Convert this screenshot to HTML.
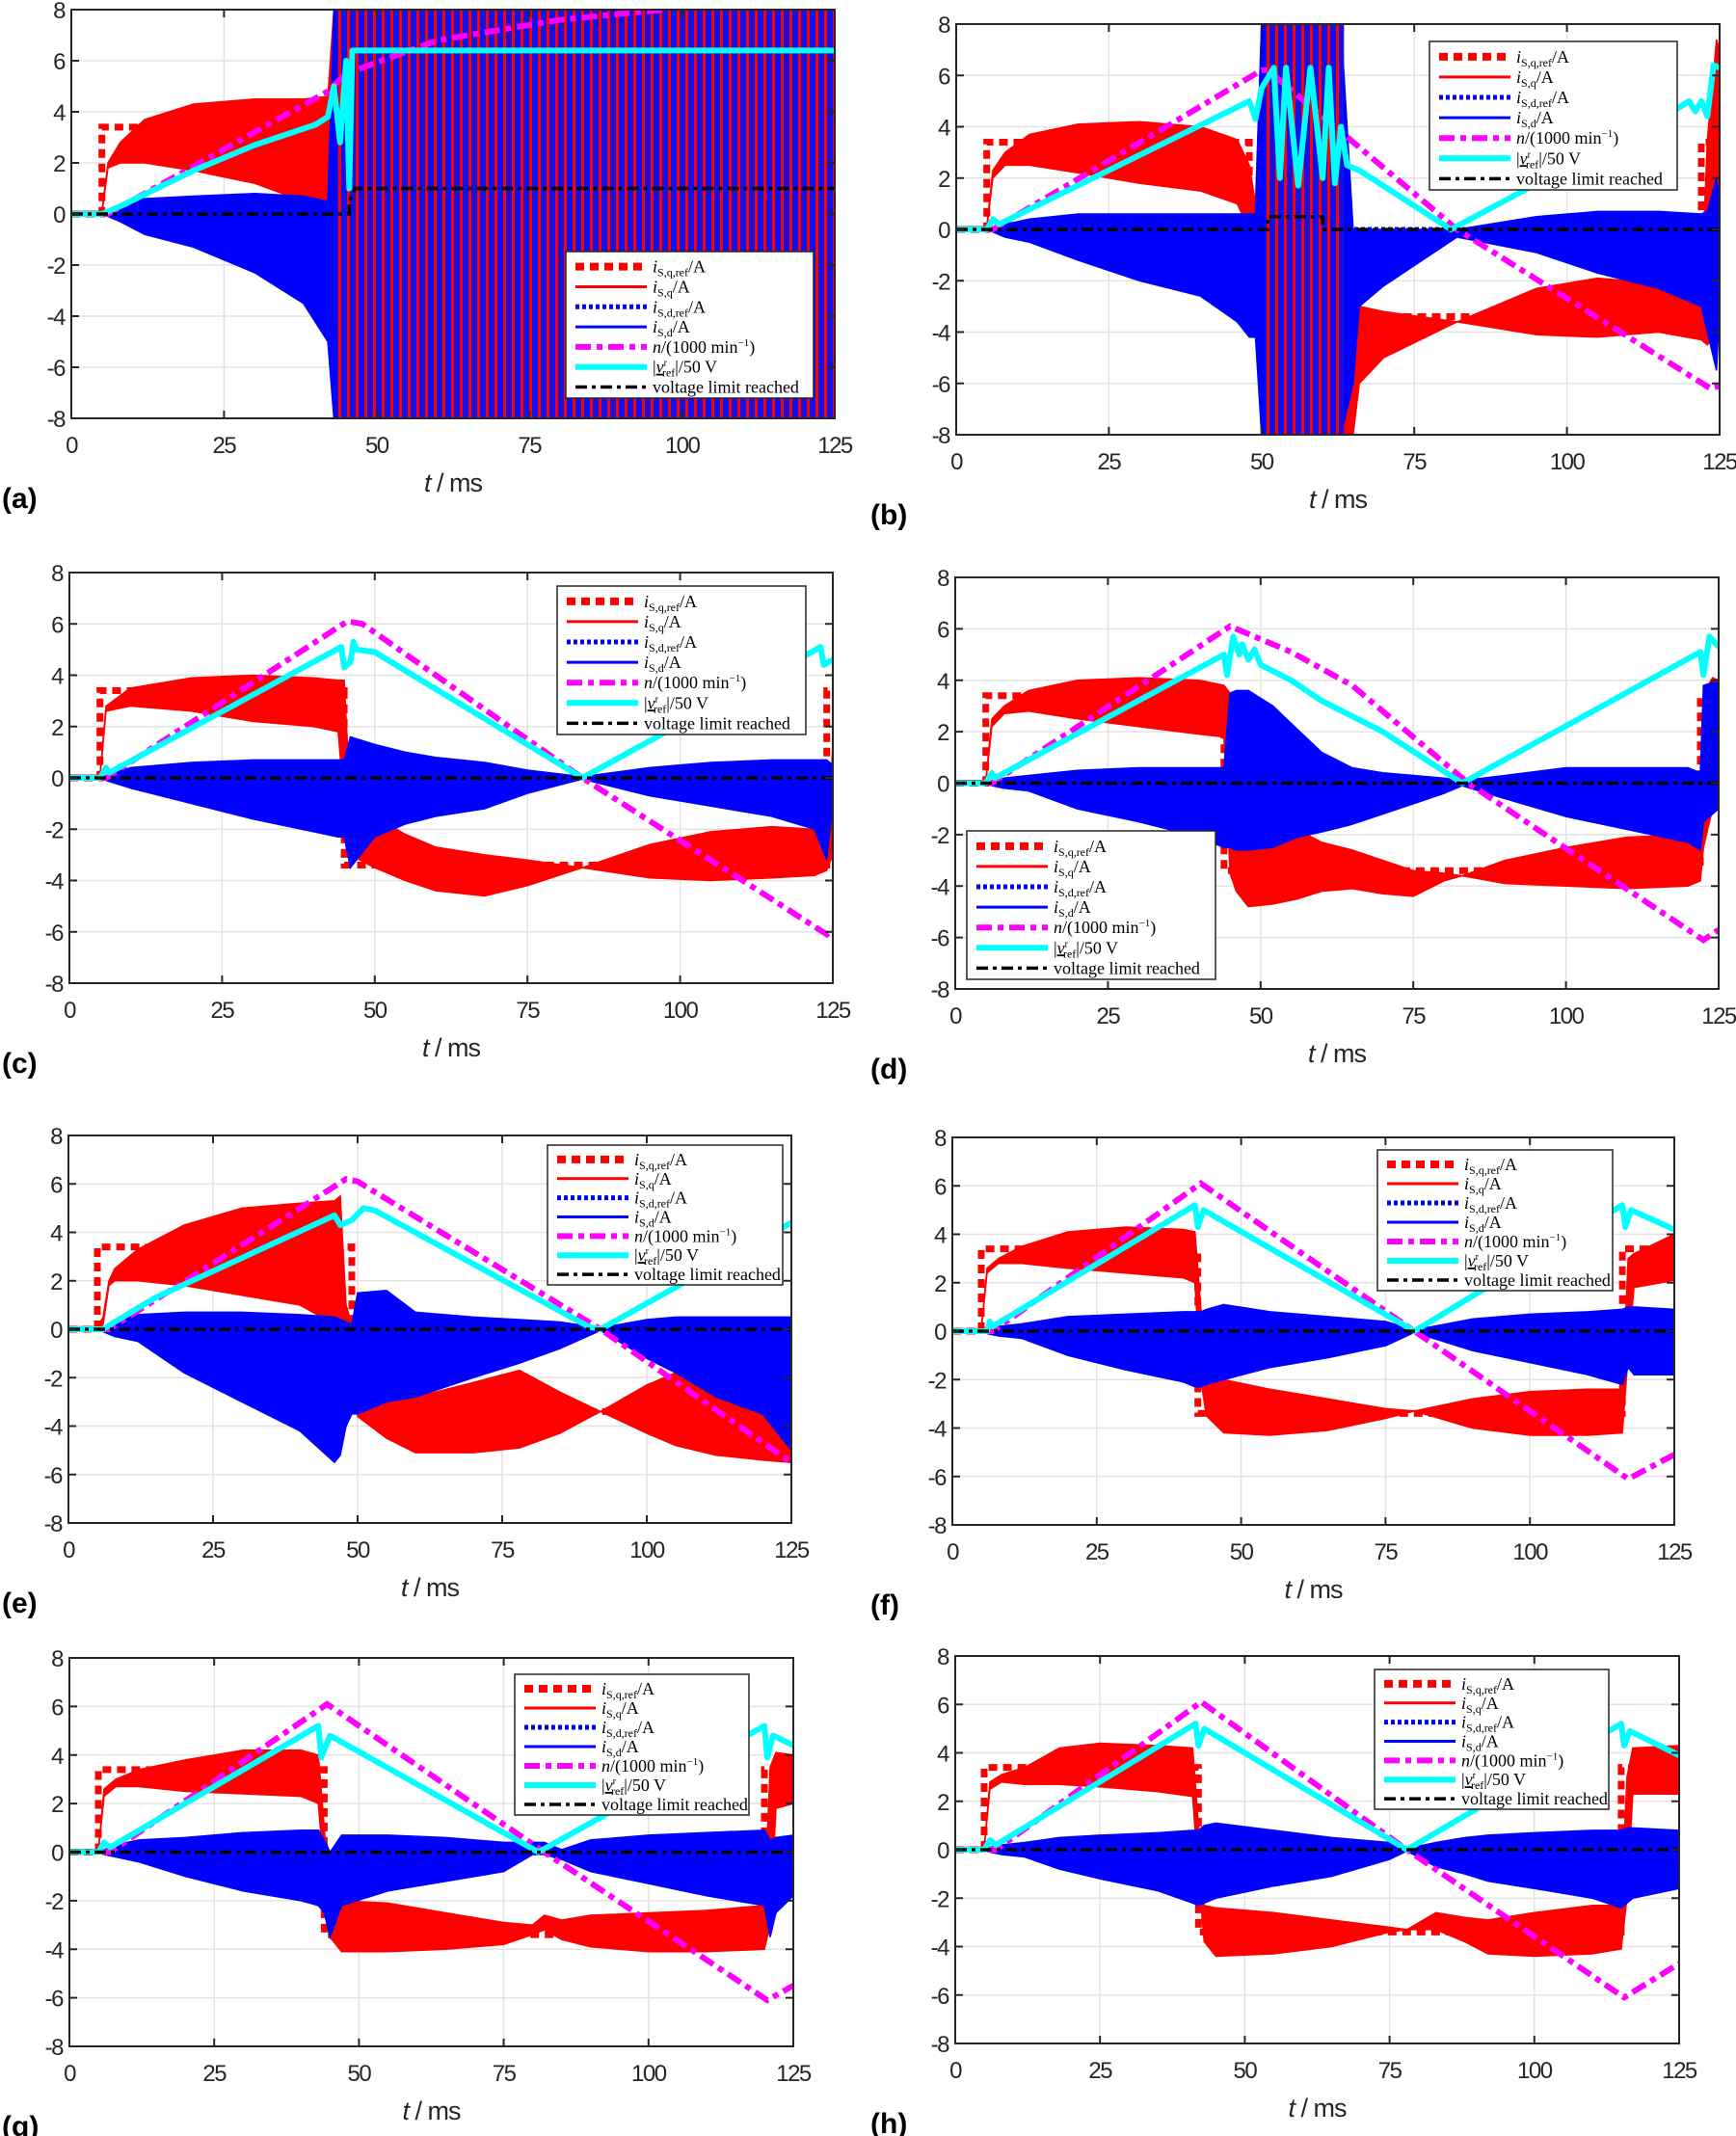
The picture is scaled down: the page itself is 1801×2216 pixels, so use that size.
<!DOCTYPE html>
<html><head><meta charset="utf-8">
<style>
html,body{margin:0;padding:0;background:#fff;}
svg{display:block;}
.tk{font-family:"Liberation Sans Narrow","Liberation Sans",sans-serif;font-size:24px;letter-spacing:-1.5px;fill:#262626;}
.lg{font-family:"Liberation Serif",serif;font-size:18px;fill:#000;}
.pl{font-family:"Liberation Sans",sans-serif;font-size:30px;font-weight:bold;fill:#000;}
.xl{font-family:"Liberation Sans",sans-serif;font-size:27px;letter-spacing:-1px;fill:#262626;}
</style></head>
<body>
<svg id="fig" width="1801" height="2216" viewBox="0 0 1801 2216" xmlns="http://www.w3.org/2000/svg">
<defs>
<pattern id="burst" width="9" height="10" patternUnits="userSpaceOnUse">
<rect x="0" y="0" width="9" height="10" fill="#1010e8"/><rect x="0" y="0" width="3" height="10" fill="#ff0000"/>
</pattern>
</defs>
</svg>
<script>
// ---- shared axis ticks ----
const xTicks = [0,25,50,75,100,125];
const yTicks = [-8,-6,-4,-2,0,2,4,6,8];
const labels = ['a','b','c','d','e','f','g','h'];

// ---- panel (a) ----
const eT_a   = [0,5,6,8,12,20,30,38,42,43,125];
const qHi_a  = [0.1,0.1,2.0,2.8,3.7,4.3,4.5,4.5,4.6,8,8];
const qLo_a  = [0,0,1.8,2.0,2.0,1.7,1.2,0.5,0.3,-8,-8];
const dHi_a  = [0,0,0,0.3,0.6,0.7,0.8,0.7,0.5,8,8];
const dLo_a  = [0,0,-0.1,-0.3,-0.8,-1.3,-2.3,-3.5,-5,-8,-8];
const nT_a   = [0,6,42,45,60,80,97];
const nV_a   = [0,0,4.8,5.5,6.8,7.6,8];
const vT_a   = [0,5,8,20,30,40,42,43,44,45,45.5,46,125];
const vV_a   = [0,0,0.3,1.7,2.7,3.5,3.8,5,2.8,6,1,6.4,6.4];
const rT_a   = [0,5,5,125];
const rV_a   = [0,0,3.4,3.4];
const lT_a   = [0,45.5,45.5,46.5,125];
const lV_a   = [0,0,0.5,1,1];
const burst_a = [43.5,125];

// ---- panel (b) ----
const eT_b   = [0,5,6,8,12,20,30,40,46,48,49,50,63,65,66,70,82,95,105,115,122,123,124.5,125];
const qHi_b  = [0.1,0.1,2.3,3.0,3.7,4.1,4.2,4.0,3.5,2.5,1,8,8,-2,-3,-3.2,-3.6,-2.3,-1.9,-2.1,-2.5,3.5,7.4,7];
const qLo_b  = [0,0,2.0,2.5,2.5,2.2,1.8,1.5,1.0,0,-3.5,-8,-8,-8,-6,-5.0,-3.6,-4.1,-4.2,-4.0,-4.3,-4.5,-4,-3];
const dHi_b  = [0,0,0,0.2,0.4,0.6,0.6,0.6,0.6,0.6,0.6,8,8,0,0,0,0,0.5,0.7,0.7,0.6,0.7,2,1];
const dLo_b  = [0,0,-0.1,-0.3,-0.5,-1.2,-2.0,-2.6,-3.6,-4.2,-4.2,-8,-8,-6,-3,-2.2,-0.3,-0.9,-1.7,-2.3,-3.0,-4,-5.5,-3];
const nT_b   = [0,6,50,51,82,123.5,125];
const nV_b   = [0,0,6.2,6.2,0,-6.2,-6.1];
const vT_b   = [0,5,6,7,48,49,50,52,53,54,56,58,60,61,62,63,64,66,68,81,118,120,121,122,123,124,125];
const vV_b   = [0,0,0.4,0.2,5.0,4.3,5.5,6.3,2,6.3,1.7,6.3,2,6.3,1.8,4,2.5,2.3,2.0,0,4.7,5.0,4.6,5.0,4.4,6.4,6.3];
const rT_b   = [0,5,5,48,48,122,122,125];
const rV_b   = [0,0,3.4,3.4,-3.4,-3.4,3.4,3.4];
const lT_b   = [0,51,51,60,60,125];
const lV_b   = [0,0,0.5,0.5,0,0];
const burst_b = [50.5,63.5];

// ---- panel (c) ----
const eT_c   = [0,5,6,10,20,30,40,44,45,46,50,55,60,68,75,84,95,105,115,122,124,125];
const qHi_c  = [0.1,0.1,2.8,3.5,3.9,4.0,3.9,3.8,3.8,-1,-1.5,-2.2,-2.7,-3.0,-3.2,-3.5,-2.6,-2.1,-1.9,-2.0,-3,1.3];
const qLo_c  = [0,0,2.6,2.8,2.6,2.2,2.0,1.8,-1,-3,-3.5,-4.0,-4.4,-4.6,-4.2,-3.5,-3.9,-4.0,-3.9,-3.8,-3.6,-3];
const dHi_c  = [0,0,0.1,0.4,0.6,0.7,0.7,0.7,0.7,1.6,1.3,1.0,0.8,0.6,0.3,0.05,0.4,0.6,0.7,0.7,0.7,0.5];
const dLo_c  = [0,0,-0.1,-0.4,-1.0,-1.6,-2.1,-2.3,-2.3,-3.5,-2.3,-1.8,-1.5,-1.2,-0.6,-0.05,-0.7,-1.1,-1.5,-2.0,-3.2,-1];
const nT_c   = [0,6,45.5,48,84,124,125];
const nV_c   = [0,0,6.1,6.0,0,-6.1,-5.9];
const vT_c   = [0,5,6,6.5,44.5,45,46,46.5,47,50,84,123,123.5,125];
const vV_c   = [0,0,0.4,0.2,5.1,4.3,4.5,5.3,5.0,4.9,0,5.1,4.4,4.6];
const rT_c   = [0,5,5,45,45,124,124,125];
const rV_c   = [0,0,3.4,3.4,-3.4,-3.4,3.4,3.4];
const lT_c   = [0,125];
const lV_c   = [0,0];

// ---- panel (d) ----
const eT_d   = [0,5,6,8,12,20,30,40,44,45,46,48,52,56,60,65,70,75,80,83,90,100,110,120,122,122.5,124,125];
const qHi_d  = [0.1,0.1,2.5,3.0,3.6,4.0,4.1,4.0,3.8,3.5,-1.5,-1.5,-1.6,-1.8,-2.3,-2.6,-3.0,-3.4,-3.5,-3.6,-3.0,-2.5,-2.1,-2.0,-2.3,3.5,4.1,4];
const qLo_d  = [0,0,2.2,2.7,2.8,2.5,2.2,1.9,1.8,-3.5,-4.2,-4.8,-4.7,-4.5,-4.2,-4.1,-4.3,-4.4,-3.8,-3.6,-3.9,-4.0,-4.1,-4.0,-3.8,-2.5,-1,0];
const dHi_d  = [0,0,0,0.2,0.3,0.5,0.6,0.6,0.6,3.5,3.6,3.6,3.0,2.1,1.2,0.6,0.4,0.3,0.2,0.1,0.3,0.6,0.6,0.6,0.4,3.8,3.9,3.9];
const dLo_d  = [0,0,-0.1,-0.2,-0.3,-1.0,-1.5,-2.1,-2.5,-2.5,-2.6,-2.6,-2.5,-2.1,-1.9,-1.6,-1.2,-0.8,-0.4,-0.1,-0.6,-1.3,-1.8,-2.3,-2.6,-1.5,-1.2,-1];
const nT_d   = [0,6,45,55,65,84,122.5,125];
const nV_d   = [0,0,6.1,5.1,3.8,0,-6.1,-5.7];
const vT_d   = [0,5,6,6.5,44,44.5,45.5,46.5,47,48,49,50,55,60,70,83,122,122.5,123.5,125];
const vV_d   = [0,0,0.4,0.2,5.0,4.2,5.7,5.0,5.4,4.8,5.2,4.6,4.0,3.2,2.0,0,5.1,4.2,5.7,5.3];
const rT_d   = [0,5,5,44,44,122,122,125];
const rV_d   = [0,0,3.4,3.4,-3.4,-3.4,3.4,3.4];
const lT_d   = [0,125];
const lV_d   = [0,0];

// ---- panel (e) ----
const eT_e   = [0,5,6,7,8,12,20,30,40,46,47,48,49,50,55,60,70,78,85,92,100,105,112,120,125];
const qHi_e  = [0.1,0.1,0.5,2.0,2.5,3.3,4.3,5.0,5.2,5.3,5.5,1,0.2,-2.5,-2.6,-2.8,-2.2,-1.7,-2.6,-3.4,-2.3,-1.8,-2.4,-3.0,-3.5];
const qLo_e  = [0,0,0.2,1.8,2.0,2.0,1.8,1.4,1.0,0.2,-0.2,-0.3,-0.3,-3.6,-4.5,-5.1,-5.1,-4.9,-4.3,-3.4,-4.3,-4.8,-5.2,-5.4,-5.5];
const dHi_e  = [0,0,0.1,0.2,0.3,0.6,0.7,0.7,0.6,0.5,0.4,0.3,0.2,1.5,1.6,0.7,0.5,0.4,0.3,0.05,0.4,0.5,0.5,0.5,0.5];
const dLo_e  = [0,0,-0.1,-0.2,-0.3,-0.5,-1.8,-3.0,-4.2,-5.5,-5.2,-4,-3.5,-3.5,-3,-2.8,-2.0,-1.4,-0.8,-0.05,-1.2,-1.8,-2.8,-3.5,-5];
const nT_e   = [0,7,48,50,92,125];
const nV_e   = [0,0,6.2,6.1,0,-5.5];
const vT_e   = [0,6,8,15,46,47,49,51,53,90,92,125];
const vV_e   = [0,0,0.3,1.3,4.7,4.3,4.5,5.0,4.9,0.1,0,4.4];
const rT_e   = [0,5,5,49,49,125];
const rV_e   = [0,0,3.4,3.4,-3.4,-3.4];
const lT_e   = [0,125];
const lV_e   = [0,0];

// ---- panel (f) ----
const eT_f   = [0,5,6,8,12,20,30,40,42,43,44,47,55,65,75,80,90,100,110,116,117,118,125];
const qHi_f  = [0.1,0.1,2.6,3.0,3.5,4.1,4.3,4.2,4.1,1,-1.7,-2.0,-2.4,-2.8,-3.2,-3.3,-2.8,-2.5,-2.4,-2.4,3,3.2,4];
const qLo_f  = [0,0,2.4,2.8,2.8,2.6,2.4,2.2,2.0,-2,-3.5,-4.2,-4.3,-4.1,-3.6,-3.3,-4.0,-4.3,-4.3,-4.2,-1,1.8,2.1];
const dHi_f  = [0,0,0,0.2,0.3,0.6,0.7,0.8,0.8,0.8,0.9,1.1,0.8,0.6,0.4,0.05,0.5,0.7,0.8,0.9,1.0,1.0,0.9];
const dLo_f  = [0,0,-0.1,-0.2,-0.3,-1.0,-1.6,-2.1,-2.3,-2.3,-2.2,-2.0,-1.5,-1.1,-0.6,-0.05,-0.8,-1.3,-1.8,-2.2,-1.5,-1.8,-1.8];
const nT_f   = [0,7,43,80,117,125];
const nV_f   = [0,0,6.1,0,-6.1,-5.1];
const vT_f   = [0,6,6.5,7,42,42.5,43.5,80,116,116.5,117.5,125];
const vV_f   = [0,0,0.4,0.2,5.2,4.3,5.0,0,5.2,4.3,5.0,4.2];
const rT_f   = [0,5,5,42.5,42.5,116,116,125];
const rV_f   = [0,0,3.4,3.4,-3.4,-3.4,3.4,3.4];
const lT_f   = [0,125];
const lV_f   = [0,0];

// ---- panel (g) ----
const eT_g   = [0,5,6,8,12,20,30,40,43,44,45,47,55,65,75,80,82,85,90,100,110,120,121,122,125];
const qHi_g  = [0.1,0.1,2.6,3.0,3.4,3.8,4.2,4.2,4.0,1,-2,-2.0,-2.1,-2.5,-2.9,-3.0,-2.6,-2.8,-2.6,-2.5,-2.4,-2.2,3.5,4.1,4.0];
const qLo_g  = [0,0,2.3,2.7,2.7,2.5,2.4,2.3,2.0,-1,-3.5,-4.1,-4.1,-4.0,-3.8,-3.4,-3.2,-3.6,-3.9,-4.1,-4.1,-4.0,-3,1.8,2.0];
const dHi_g  = [0,0,0.1,0.3,0.5,0.6,0.8,0.9,0.9,0.5,0,0.7,0.7,0.6,0.4,0.4,0.4,0.1,0.5,0.7,0.8,0.9,0.5,0.6,0.7];
const dLo_g  = [0,0,-0.1,-0.2,-0.4,-1.0,-1.6,-2.0,-2.2,-2.5,-3.5,-2.2,-1.6,-1.2,-0.8,-0.1,-0.1,-0.3,-0.8,-1.3,-1.8,-2.2,-3.5,-2.5,-1.8];
const nT_g   = [0,7,44.5,82,120.5,125];
const nV_g   = [0,0,6.1,0,-6.1,-5.5];
const vT_g   = [0,5,6,7,43,43.5,45,81,120,120.5,121.5,125];
const vV_g   = [0,0,0.4,0.2,5.2,3.9,4.8,0,5.2,3.9,4.8,4.4];
const rT_g   = [0,5,5,44,44,120,120,125];
const rV_g   = [0,0,3.4,3.4,-3.4,-3.4,3.4,3.4];
const lT_g   = [0,125];
const lV_g   = [0,0];

// ---- panel (h) ----
const eT_h   = [0,5,6,8,12,18,25,35,41,42,43,45,55,65,75,78,83,88,92,100,110,115,116,117,125];
const qHi_h  = [0.1,0.1,2.8,3.1,3.4,4.2,4.4,4.3,4.2,1,-2.3,-2.4,-2.6,-2.9,-3.2,-3.3,-2.6,-2.8,-2.9,-2.6,-2.3,-2.3,3,4.2,4.3];
const qLo_h  = [0,0,2.5,2.8,2.7,2.7,2.6,2.4,2.2,-1,-3.8,-4.4,-4.3,-4.0,-3.4,-3.3,-3.3,-3.8,-4.3,-4.4,-4.3,-4.1,-2,2.3,2.3];
const dHi_h  = [0,0,0.1,0.2,0.3,0.5,0.6,0.7,0.8,0.8,1.0,1.1,0.8,0.5,0.3,0.05,0.3,0.5,0.6,0.7,0.8,0.8,0.9,0.9,0.8];
const dLo_h  = [0,0,-0.1,-0.2,-0.3,-0.8,-1.2,-1.7,-2.2,-2.3,-2.2,-2.0,-1.5,-1.1,-0.4,-0.05,-0.7,-1.0,-1.3,-1.6,-2.0,-2.4,-2.2,-2.0,-1.6];
const nT_h   = [0,7,42.5,78,115.5,125];
const nV_h   = [0,0,6.1,0,-6.1,-4.7];
const vT_h   = [0,5,6,7,41.5,42,43,78,115,115.5,116.5,125];
const vV_h   = [0,0,0.4,0.2,5.2,4.3,5.0,0,5.2,4.3,4.9,3.9];
const rT_h   = [0,5,5,42,42,115,115,125];
const rV_h   = [0,0,3.4,3.4,-3.4,-3.4,3.4,3.4];
const lT_h   = [0,125];
const lV_h   = [0,0];

const series = {
 a:{eT:eT_a,qHi:qHi_a,qLo:qLo_a,dHi:dHi_a,dLo:dLo_a,nT:nT_a,nV:nV_a,vT:vT_a,vV:vV_a,rT:rT_a,rV:rV_a,lT:lT_a,lV:lV_a,burst:burst_a},
 b:{eT:eT_b,qHi:qHi_b,qLo:qLo_b,dHi:dHi_b,dLo:dLo_b,nT:nT_b,nV:nV_b,vT:vT_b,vV:vV_b,rT:rT_b,rV:rV_b,lT:lT_b,lV:lV_b,burst:burst_b},
 c:{eT:eT_c,qHi:qHi_c,qLo:qLo_c,dHi:dHi_c,dLo:dLo_c,nT:nT_c,nV:nV_c,vT:vT_c,vV:vV_c,rT:rT_c,rV:rV_c,lT:lT_c,lV:lV_c},
 d:{eT:eT_d,qHi:qHi_d,qLo:qLo_d,dHi:dHi_d,dLo:dLo_d,nT:nT_d,nV:nV_d,vT:vT_d,vV:vV_d,rT:rT_d,rV:rV_d,lT:lT_d,lV:lV_d},
 e:{eT:eT_e,qHi:qHi_e,qLo:qLo_e,dHi:dHi_e,dLo:dLo_e,nT:nT_e,nV:nV_e,vT:vT_e,vV:vV_e,rT:rT_e,rV:rV_e,lT:lT_e,lV:lV_e},
 f:{eT:eT_f,qHi:qHi_f,qLo:qLo_f,dHi:dHi_f,dLo:dLo_f,nT:nT_f,nV:nV_f,vT:vT_f,vV:vV_f,rT:rT_f,rV:rV_f,lT:lT_f,lV:lV_f},
 g:{eT:eT_g,qHi:qHi_g,qLo:qLo_g,dHi:dHi_g,dLo:dLo_g,nT:nT_g,nV:nV_g,vT:vT_g,vV:vV_g,rT:rT_g,rV:rV_g,lT:lT_g,lV:lV_g},
 h:{eT:eT_h,qHi:qHi_h,qLo:qLo_h,dHi:dHi_h,dLo:dLo_h,nT:nT_h,nV:nV_h,vT:vT_h,vV:vV_h,rT:rT_h,rV:rV_h,lT:lT_h,lV:lV_h}
};

const layout = {
 a:{ax:[74,866,10,434], lg:[587,261,257,152], px:2},
 b:{ax:[992,1784,25,451], lg:[1483,43,257,154], px:903},
 c:{ax:[72,864,594,1020], lg:[578,608,258,154], px:2},
 d:{ax:[991,1783,599,1026], lg:[1003,862,258,154], px:903},
 e:{ax:[71,821,1178,1580], lg:[568,1188,244,145], px:2},
 f:{ax:[988,1737,1180,1582], lg:[1429,1193,244,146], px:903},
 g:{ax:[72,823,1720,2123], lg:[534,1737,243,146], px:2},
 h:{ax:[991,1742,1718,2120], lg:[1426,1732,243,145], px:903}
};

const NS = 'http://www.w3.org/2000/svg';
const svg = document.getElementById('fig');
function mk(tag, attrs, parent){
  const e = document.createElementNS(NS, tag);
  for (const k in attrs) e.setAttribute(k, attrs[k]);
  (parent||svg).appendChild(e);
  return e;
}

labels.forEach(function(p){
  const [L,R,T,B] = layout[p].ax;
  const sx = t => L + t/125*(R-L);
  const sy = v => B - (v+8)/16*(B-T);
  const d = series[p];
  const g = mk('g', {});
  
  
  mk('clipPath', {id:'clip'+p}, g).appendChild(
    (function(){const r=document.createElementNS(NS,'rect');r.setAttribute('x',L);r.setAttribute('y',T);r.setAttribute('width',R-L);r.setAttribute('height',B-T);return r;})());
  mk('rect', {x:L,y:T,width:R-L,height:B-T,fill:'#fff'}, g);
  const grid = mk('g', {stroke:'#e3e3e3','stroke-width':1.5}, g);
  
  
  xTicks.forEach(t => mk('line', {x1:sx(t),x2:sx(t),y1:T,y2:B}, grid));
  yTicks.forEach(v => mk('line', {x1:L,x2:R,y1:sy(v),y2:sy(v)}, grid));

  const plot = mk('g', {'clip-path':'url(#clip'+p+')'}, g);
  const line = (ts, vs) => ts.map((t,i) => sx(t).toFixed(1)+','+sy(vs[i]).toFixed(1)).join(' ');
  const band = (ts, hi, lo) => line(ts,hi) + ' ' + line(ts.slice().reverse(), lo.slice().reverse());

  const rRef = mk('polyline', {points:line(d.rT,d.rV),fill:'none',stroke:'#ff0000','stroke-width':7,'stroke-dasharray':'9,6'}, plot);
  
  
  const qb = mk('polygon', {points:band(d.eT,d.qHi,d.qLo),fill:'#ff0000',stroke:'#ff0000','stroke-width':1.5}, plot);
  
  
  const dRef = mk('line', {x1:sx(0),x2:sx(125),y1:sy(0),y2:sy(0),stroke:'#0000ff','stroke-width':5,'stroke-dasharray':'4,3'}, plot);
  
  
  const db = mk('polygon', {points:band(d.eT,d.dHi,d.dLo),fill:'#0000ff',stroke:'#0000ff','stroke-width':1.5}, plot);
  
  
  if (d.burst){
    const br = mk('rect', {x:sx(d.burst[0]),y:T,width:sx(d.burst[1])-sx(d.burst[0]),height:B-T,fill:'url(#burst)'}, plot);
    
    
  }
  const nl = mk('polyline', {points:line(d.nT,d.nV),fill:'none',stroke:'#ff00ff','stroke-width':6,'stroke-dasharray':'16,6,6,6'}, plot);
  
  
  const vl = mk('polyline', {points:line(d.vT,d.vV),fill:'none',stroke:'#00ffff','stroke-width':6,'stroke-linejoin':'round'}, plot);
  
  
  const ll = mk('polyline', {points:line(d.lT,d.lV),fill:'none',stroke:'#000','stroke-width':3.5,'stroke-dasharray':'12,5,4,5'}, plot);
  
  

  mk('rect', {x:L,y:T,width:R-L,height:B-T,fill:'none',stroke:'#262626','stroke-width':2}, g);
  const tks = mk('g', {stroke:'#262626','stroke-width':2}, g);
  xTicks.forEach(t => { mk('line',{x1:sx(t),x2:sx(t),y1:B,y2:B-8},tks); mk('line',{x1:sx(t),x2:sx(t),y1:T,y2:T+8},tks); });
  yTicks.forEach(v => { mk('line',{x1:L,x2:L+8,y1:sy(v),y2:sy(v)},tks); mk('line',{x1:R,x2:R-8,y1:sy(v),y2:sy(v)},tks); });
  xTicks.forEach(t => {
    const tx = mk('text', {x:sx(t),y:B+36,'text-anchor':'middle',class:'tk'}, g);
    tx.textContent = t;
    
    
  });
  yTicks.forEach(v => {
    const tx = mk('text', {x:L-7,y:sy(v)+9,'text-anchor':'end',class:'tk'}, g);
    tx.textContent = v;
    
    
  });
  const xl = mk('text', {x:(L+R)/2,y:B+76,'text-anchor':'middle',class:'xl'}, g);
  xl.innerHTML = '<tspan font-style="italic">t</tspan>  / ms';
  
  
  const pl = mk('text', {x:layout[p].px,y:B+93,class:'pl'}, g);
  pl.textContent = '(' + p + ')';
  
  

  const [lx,ly,lw,lh] = layout[p].lg;
  const lg = mk('g', {}, g);
  
  
  mk('rect', {x:lx,y:ly,width:lw,height:lh,fill:'#fff',stroke:'#262626','stroke-width':1.5}, lg);
  const step = lh/7.3;
  const styles = [
    {stroke:'#ff0000','stroke-width':8,'stroke-dasharray':'9,6'},
    {stroke:'#ff0000','stroke-width':3},
    {stroke:'#0000ff','stroke-width':5,'stroke-dasharray':'4,3'},
    {stroke:'#0000ff','stroke-width':3},
    {stroke:'#ff00ff','stroke-width':6,'stroke-dasharray':'16,6,6,6'},
    {stroke:'#00ffff','stroke-width':6},
    {stroke:'#000','stroke-width':3.5,'stroke-dasharray':'12,5,4,5'}
  ];
  const texts = [
    '<tspan font-style="italic">i</tspan><tspan font-size="12" dy="4">S,q,ref</tspan><tspan dy="-4">/A</tspan>',
    '<tspan font-style="italic">i</tspan><tspan font-size="12" dy="4">S,q</tspan><tspan dy="-4">/A</tspan>',
    '<tspan font-style="italic">i</tspan><tspan font-size="12" dy="4">S,d,ref</tspan><tspan dy="-4">/A</tspan>',
    '<tspan font-style="italic">i</tspan><tspan font-size="12" dy="4">S,d</tspan><tspan dy="-4">/A</tspan>',
    '<tspan font-style="italic">n</tspan>/(1000 min<tspan font-size="11" dy="-7">−1</tspan><tspan dy="7">)</tspan>',
    '|<tspan font-style="italic" text-decoration="underline">v</tspan><tspan font-size="10" dy="-7">r</tspan><tspan font-size="12" dx="-5" dy="11">ref</tspan><tspan dy="-4">|/50 V</tspan>',
    'voltage limit reached'
  ];
  for (let i=0;i<7;i++){
    const yy = ly + step*(i+0.75);
    const ls = mk('line', Object.assign({x1:lx+10,x2:lx+84,y1:yy,y2:yy}, styles[i]), lg);
    
    
    const lt = mk('text', {x:lx+90,y:yy+6,class:'lg'}, lg);
    lt.innerHTML = texts[i];
    
    
  }
});
</script>
</body></html>
